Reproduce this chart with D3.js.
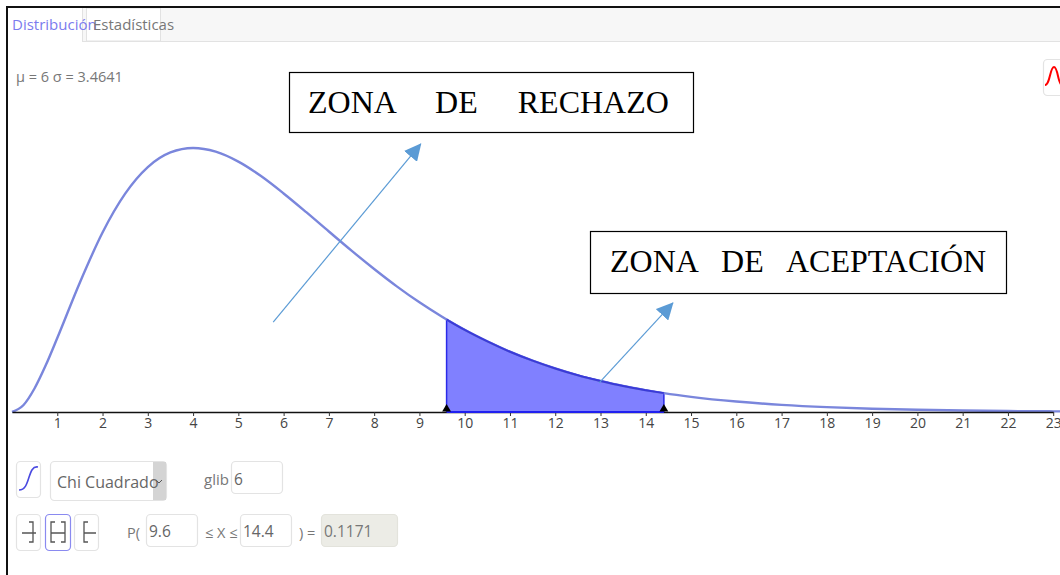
<!DOCTYPE html>
<html><head><meta charset="utf-8">
<script src="https://cdn.jsdelivr.net/npm/d3@7/dist/d3.min.js"></script>
<style>html,body{margin:0;padding:0;background:#fff;overflow:hidden}svg{display:block}
.n{font-family:"Liberation Sans Narrow","Open Sans",sans-serif;}
</style></head><body><svg id="c" width="1060" height="575"></svg>
<script>
const curveX=[0,.25,.5,.75,1,1.5,2,2.5,3,3.5,4,4.5,5,5.5,6,6.5,7,7.5,8,8.5,9,9.5,9.6,10,10.5,11,11.5,12,12.5,13,13.5,14,14.4,15,16,17,18,19,20,21,22,23,23.3];
const curveY=[0,.00345,.01217,.02416,.0379,.0664,.092,.1119,.1255,.133,.1353,.1334,.1283,.1209,.112,.1024,.0925,.0827,.0733,.0644,.0562,.0488,.0474,.0421,.0362,.0309,.0263,.0223,.0188,.0159,.0133,.0112,.00968,.00778,.00537,.00367,.00249,.00169,.00113,.00076,.0005,.00034,.0003];
const tickValues=d3.range(1,24);
const lower=9.6, upper=14.4;
const tabs=["Distribución","Estadísticas"];
const zoneLabels=["ZONA     DE     RECHAZO","ZONA   DE   ACEPTACIÓN"];
const arrowsData=[{x1:5.77,y1:.0461,x2:9.03,y2:.1374},{x1:12.97,y1:.0149,x2:14.6,y2:.0559}];

const svg=d3.select("#c");
const x=d3.scaleLinear().domain([0,23]).range([12,1053.2]);
const y=d3.scaleLinear().domain([0,.1353]).range([412,148]);
const pts=curveX.map((v,i)=>({x:v,y:curveY[i]}));
const defs=svg.append("defs");
defs.append("marker").attr("id","ah").attr("viewBox","0 0 10 10").attr("refX",9.5).attr("refY",5)
 .attr("markerUnits","userSpaceOnUse").attr("markerWidth",17).attr("markerHeight",17).attr("orient","auto")
 .append("path").attr("d","M0,0L10,5L0,10Z").attr("fill","#5b9bd5");

// frame
svg.append("rect").attr("x",8).attr("y",8).attr("width",1052).attr("height",33).attr("fill","#f7f7f7");
svg.append("line").attr("x1",8).attr("x2",1060).attr("y1",41.5).attr("y2",41.5).attr("stroke","#e2e2e2");
svg.append("rect").attr("x",8).attr("y",8).attr("width",74).attr("height",34).attr("fill","#fff");
svg.append("rect").attr("x",86.5).attr("y",8).attr("width",74).attr("height",33).attr("fill","#fff").attr("stroke","#e2e2e2");
svg.append("line").attr("x1",82.5).attr("x2",82.5).attr("y1",8).attr("y2",41).attr("stroke","#e2e2e2");
svg.append("line").attr("x1",6).attr("x2",1060).attr("y1",7).attr("y2",7).attr("stroke","#111").attr("stroke-width",2);
svg.append("line").attr("x1",7).attr("x2",7).attr("y1",6).attr("y2",575).attr("stroke","#111").attr("stroke-width",2);
const t=(s,px,py,size,fill,anchor)=>svg.append("text").attr("class","n").attr("x",px).attr("y",py).attr("font-size",size).attr("fill",fill).attr("text-anchor",anchor||"start").text(s);
t(tabs[0],12,30,15,"#7b7bee");
t(tabs[1],93,30,15,"#777");
t("μ = 6 σ = 3.4641",16,82,14.5,"#777");

// area and curve
const inside=pts.filter(d=>d.x>=lower&&d.x<=upper);
svg.append("path").datum(inside).attr("fill","#8080ff").attr("stroke","#2a2ae8").attr("stroke-width",1.5)
 .attr("d",d3.area().x(d=>x(d.x)).y0(y(0)).y1(d=>y(d.y)).curve(d3.curveMonotoneX));
svg.append("path").datum(pts).attr("fill","none").attr("stroke","#7a86dc").attr("stroke-width",2.4)
 .attr("d",d3.line().x(d=>x(d.x)).y(d=>y(d.y)).curve(d3.curveMonotoneX));
svg.append("path").datum(inside).attr("fill","none").attr("stroke","#3a3ad8").attr("stroke-width",2)
 .attr("d",d3.line().x(d=>x(d.x)).y(d=>y(d.y)).curve(d3.curveMonotoneX));

// axis
const ax=svg.append("g").attr("transform",`translate(0,${y(0)})`).call(d3.axisBottom(x).tickValues(tickValues).tickSize(4).tickSizeOuter(0).tickFormat(d3.format("d")));
ax.select(".domain").attr("stroke","#111").attr("stroke-width",1.6);
ax.selectAll(".tick line").attr("stroke","#333");
ax.selectAll(".tick text").attr("class","n").attr("font-size",14).attr("fill","#444").attr("y",6);
svg.append("line").attr("x1",x(lower)).attr("x2",x(upper)).attr("y1",y(0)).attr("y2",y(0)).attr("stroke","#2020f0").attr("stroke-width",1.8);
[lower,upper].forEach(v=>svg.append("path").attr("d",d3.symbol(d3.symbolTriangle,34)()).attr("transform",`translate(${x(v)},${y(0)-3})`).attr("fill","#000"));

// annotations
arrowsData.forEach(a=>svg.append("line").attr("x1",x(a.x1)).attr("y1",y(a.y1)).attr("x2",x(a.x2)).attr("y2",y(a.y2)).attr("stroke","#5b9bd5").attr("stroke-width",1.2).attr("marker-end","url(#ah)"));
const box=(bx,by,w,h,s,tx)=>{svg.append("rect").attr("x",bx+.5).attr("y",by+.5).attr("width",w).attr("height",h).attr("fill","#fff").attr("stroke","#000").attr("stroke-width",1.2);
 svg.append("text").attr("x",tx).attr("y",by+41).attr("xml:space","preserve").style("white-space","pre").attr("font-family","'Liberation Serif',serif").attr("font-size",32).attr("fill","#000").text(s);};
box(289,72,404,60,zoneLabels[0],308);
box(590,231,416,62,zoneLabels[1],610);

// controls
const btn=(bx,by,w,h,stroke,fill)=>svg.append("rect").attr("x",bx+.5).attr("y",by+.5).attr("width",w).attr("height",h).attr("rx",4).attr("fill",fill||"#fff").attr("stroke",stroke||"#e3e3e3").attr("stroke-width",1.2);
btn(1043,59,20,36);
svg.append("path").attr("d","M1045,85C1050,85 1050,67 1054,67C1058,67 1058,85 1062,85").attr("fill","none").attr("stroke","#f00").attr("stroke-width",2);
btn(16,461,24,36);
svg.append("path").attr("d","M19,490C31,490 27,465 38,467").attr("fill","none").attr("stroke","#4a4ae0").attr("stroke-width",1.6);
btn(50,461,116,39);
svg.append("rect").attr("x",153).attr("y",462).attr("width",13).attr("height",38).attr("fill","#d4d4d4");
svg.append("path").attr("d","M156,480l3,3l3,-3").attr("fill","none").attr("stroke","#555");
t("Chi Cuadrado",57,488,16,"#666");
t("glib",204,485,15,"#777");
btn(231,461,51,32); t("6",234,485,15.5,"#666");
btn(16,514,24,36); btn(45,514,25,36,"#8a8af0"); btn(74,514,24,36);
const g="#555";
svg.append("path").attr("d","M22,533H36M29,522H33V542H29").attr("fill","none").attr("stroke",g).attr("stroke-width",1.3);
svg.append("path").attr("d","M55,522H51V542H55M61,522H65V542H61M51,533H65").attr("fill","none").attr("stroke",g).attr("stroke-width",1.3);
svg.append("path").attr("d","M88,522H84V542H88M84,533H96").attr("fill","none").attr("stroke",g).attr("stroke-width",1.3);
t("P(",127,538,14.5,"#777");
btn(146,514,51,32); t("9.6",149,537,15.5,"#666");
t("≤ X ≤",205,538,14.5,"#777");
btn(240,514,51,32); t("14.4",243,537,15.5,"#666");
t(") =",299,538,14.5,"#777");
btn(321,514,76,32,"#e3e3dc","#ecece6"); t("0.1171",324,537,15.5,"#777");
</script></body></html>
